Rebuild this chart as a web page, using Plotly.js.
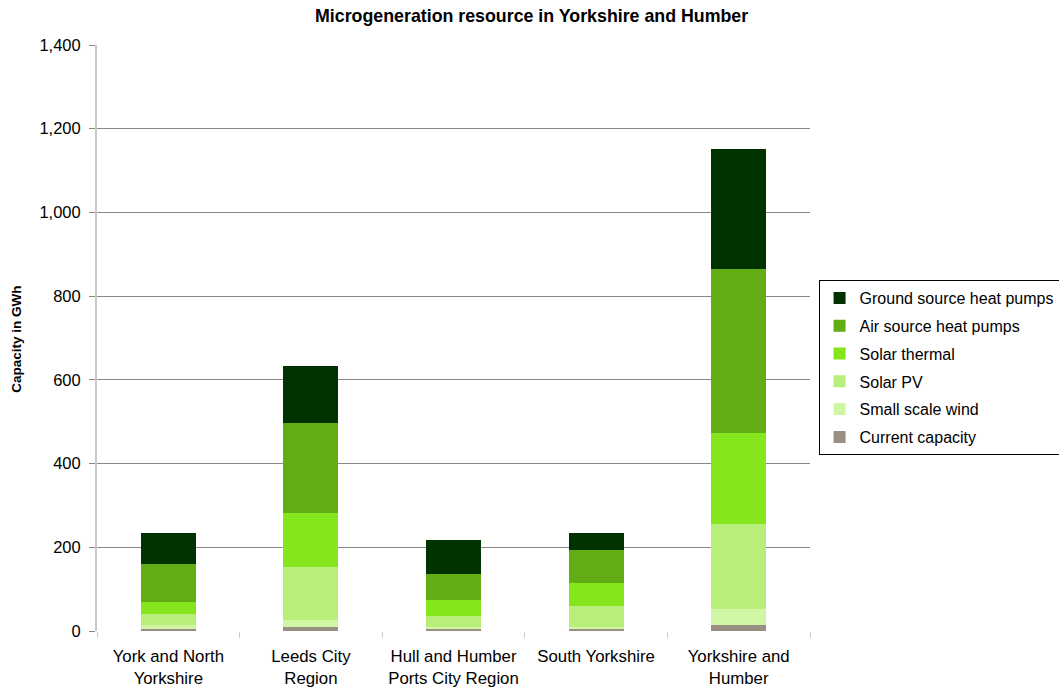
<!DOCTYPE html>
<html>
<head>
<meta charset="utf-8">
<script src="https://cdn.plot.ly/plotly-3.0.1.min.js"></script>
<style>html,body{margin:0;padding:0;background:#fff;}#chart{width:1059px;height:688px;}</style>
</head>
<body>
<div id="chart"></div>
<script>
const categories = ["York and North<br>Yorkshire", "Leeds City<br>Region", "Hull and Humber<br>Ports City Region", "South Yorkshire", "Yorkshire and<br>Humber"];
const currentCapacity = [5, 10, 5, 5, 15];
const smallScaleWind = [10, 17, 4, 4, 38];
const solarPV = [26, 127, 28, 51, 203];
const solarThermal = [28, 129, 36, 55, 217];
const airSourceHeatPumps = [91, 215, 62, 78, 392];
const groundSourceHeatPumps = [74, 135, 82, 41, 286];
const yTicks = [0, 200, 400, 600, 800, 1000, 1200, 1400];

const series = [
  {name: "Current capacity", y: currentCapacity, color: "#9A8F83"},
  {name: "Small scale wind", y: smallScaleWind, color: "#CFF5A5"},
  {name: "Solar PV", y: solarPV, color: "#B8EF7A"},
  {name: "Solar thermal", y: solarThermal, color: "#86E61E"},
  {name: "Air source heat pumps", y: airSourceHeatPumps, color: "#62AC14"},
  {name: "Ground source heat pumps", y: groundSourceHeatPumps, color: "#003300"}
];

const traces = series.map((s, i) => ({
  type: "bar",
  name: s.name,
  x: categories,
  y: s.y,
  legendgroup: "g" + i,
  legendrank: 100 - i,
  marker: {color: s.color, line: {width: 0}},
  hoverinfo: "x+y+name"
}));

const layout = {
  width: 1059,
  height: 688,
  barmode: "stack",
  bargap: 0.614,
  paper_bgcolor: "#ffffff",
  plot_bgcolor: "#ffffff",
  font: {family: "Liberation Sans, Arial, sans-serif", color: "#000000", size: 16},
  margin: {l: 97, r: 249, t: 45, b: 57, autoexpand: false},
  title: {
    text: "<b>Microgeneration resource in Yorkshire and Humber</b>",
    font: {size: 17.8, family: "Liberation Sans, Arial, sans-serif", color: "#000"},
    x: 0.502, xanchor: "center", y: 0.977, yanchor: "middle"
  },
  xaxis: {
    type: "category",
    tickson: "boundaries",
    ticks: "outside",
    ticklen: 6,
    tickcolor: "#cfcfcf",
    tickwidth: 1,
    showline: false,
    showgrid: false,
    zeroline: false,
    tickfont: {size: 16.8, color: "#000"},
    ticklabelstandoff: 13,
    automargin: false
  },
  yaxis: {
    range: [0, 1400],
    tickvals: yTicks,
    tickformat: ",",
    ticks: "outside",
    ticklen: 6,
    tickcolor: "#888888",
    showline: true,
    linecolor: "#c8c8c8",
    linewidth: 2,
    showgrid: true,
    gridcolor: "#888888",
    gridwidth: 1,
    zeroline: false,
    tickfont: {size: 16.5, color: "#000"},
    ticklabelstandoff: 5,
    automargin: false
  },
  annotations: [{
    text: "<b>Capacity in GWh</b>",
    xref: "paper", yref: "paper",
    x: -0.1122, y: 0.497,
    xanchor: "center", yanchor: "middle",
    textangle: -90,
    showarrow: false,
    font: {size: 13.5, color: "#000"}
  }],
  legend: {
    x: 1.012, xanchor: "left",
    y: 0.599, yanchor: "top",
    traceorder: "grouped",
    tracegroupgap: 4,
    bordercolor: "#000000",
    borderwidth: 1,
    bgcolor: "#ffffff",
    font: {size: 16, color: "#000"},
    itemwidth: 30
  },
  showlegend: true
};

Plotly.newPlot("chart", traces, layout, {displayModeBar: false, responsive: false});
</script>
</body>
</html>
